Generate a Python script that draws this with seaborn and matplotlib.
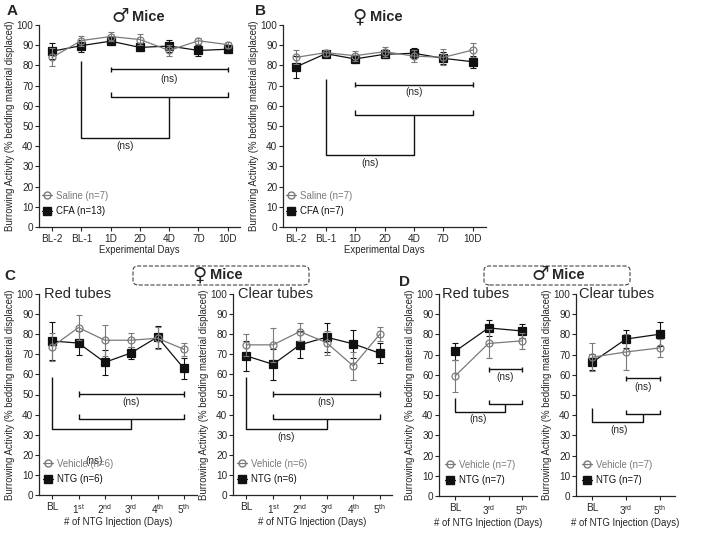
import pandas as pd
import seaborn as sns
import matplotlib.pyplot as plt
from matplotlib.lines import Line2D
from matplotlib.patches import FancyBboxPatch

# ---- data (mean +/- SEM) ----
days_ab = ['BL-2', 'BL-1', '1D', '2D', '4D', '7D', '10D']
inj_c = ['BL', '1$^{st}$', '2$^{nd}$', '3$^{rd}$', '4$^{th}$', '5$^{th}$']
inj_d = ['BL', '3$^{rd}$', '5$^{th}$']

a_saline = [84.0, 92.3, 94.3, 92.8, 87.4, 92.2, 90.3]
a_saline_sem = [4.5, 2.5, 2.0, 2.8, 2.5, 1.5, 1.5]
a_cfa = [87.0, 89.8, 92.0, 88.9, 89.6, 87.4, 88.0]
a_cfa_sem = [4.0, 3.0, 2.0, 2.0, 2.8, 2.5, 2.0]

b_saline = [84.0, 86.3, 84.8, 86.8, 84.6, 84.0, 87.6]
b_saline_sem = [3.5, 1.5, 2.5, 2.5, 3.0, 4.0, 3.6]
b_cfa = [79.3, 85.8, 83.2, 85.5, 86.0, 83.5, 81.8]
b_cfa_sem = [5.5, 1.5, 2.0, 2.0, 2.5, 3.0, 3.0]

c_red_veh = [73.8, 83.3, 77.0, 77.0, 78.0, 72.5]
c_red_veh_sem = [7.0, 6.3, 7.6, 3.5, 5.5, 3.2]
c_red_ntg = [76.6, 75.6, 66.0, 70.7, 78.6, 63.0]
c_red_ntg_sem = [9.4, 6.0, 6.2, 3.0, 5.5, 5.2]
c_clear_veh = [74.7, 74.7, 81.3, 75.8, 64.2, 80.1]
c_clear_veh_sem = [5.3, 8.6, 4.5, 6.0, 7.0, 3.7]
c_clear_ntg = [69.2, 65.0, 74.7, 78.5, 75.2, 70.5]
c_clear_ntg_sem = [7.5, 7.7, 6.7, 7.2, 7.0, 5.0]

d_red_veh = [59.4, 75.5, 76.8]
d_red_veh_sem = [8.1, 7.3, 4.0]
d_red_ntg = [71.6, 83.2, 81.7]
d_red_ntg_sem = [4.2, 3.8, 3.6]
d_clear_veh = [68.7, 71.3, 73.3]
d_clear_veh_sem = [6.8, 9.0, 4.5]
d_clear_ntg = [66.2, 77.7, 80.1]
d_clear_ntg_sem = [4.0, 4.3, 5.8]

sns.set_style('ticks')
plt.rcParams['font.family'] = ['Liberation Sans', 'DejaVu Sans']
plt.rcParams['mathtext.fontset'] = 'custom'
plt.rcParams['mathtext.rm'] = 'Liberation Sans'
plt.rcParams['mathtext.it'] = 'Liberation Sans'
plt.rcParams['axes.linewidth'] = 0.9

GREY = '#7a7a7a'
BLACK = '#111111'
YLAB = 'Burrowing Activity (% bedding material displaced)'
FS = 6.9

fig = plt.figure(figsize=(7.09, 5.34), dpi=100)
W, H = 709, 534


def px_axes(x0, x1, ytop, ybot):
    return fig.add_axes([x0 / W, 1 - ybot / H, (x1 - x0) / W, (ybot - ytop) / H])


def draw_panel(ax, cats, ctrl, ctrl_sem, trt, trt_sem, names, xlabel, pad):
    x = list(range(len(cats)))
    for vals, sem, col, mk, ms, mfc in [(trt, trt_sem, BLACK, 's', 5.5, BLACK),
                                        (ctrl, ctrl_sem, GREY, 'o', 5, 'none')]:
        df = pd.DataFrame({'x': x, 'y': vals})
        sns.lineplot(data=df, x='x', y='y', ax=ax, color=col, marker=mk,
                     markersize=ms, markerfacecolor=mfc, mec=col, mew=0.9,
                     lw=0.9, errorbar=None, sort=False)
        ax.errorbar(x, vals, yerr=sem, fmt='none', ecolor=col, elinewidth=0.8,
                    capsize=2.5, capthick=0.8)
    ax.set_xlim(-pad[0], len(cats) - 1 + pad[1])
    ax.set_ylim(0, 100)
    ax.set_yticks(range(0, 101, 10))
    ax.set_xticks(x)
    ax.set_xticklabels(cats, fontsize=FS + 0.3)
    ax.tick_params(axis='y', labelsize=FS + 0.3, length=3, pad=1)
    ax.tick_params(axis='x', length=3, pad=2)
    ax.set_xlabel(xlabel, fontsize=FS, labelpad=1)
    ax.set_ylabel(YLAB, fontsize=6.9, labelpad=1)
    sns.despine(ax=ax)
    handles = [Line2D([], [], color=GREY, marker='o', mfc='none', mec=GREY, ms=5, lw=0.9),
               Line2D([], [], color=BLACK, marker='s', ms=5.5, lw=0.9)]
    ax.legend(handles, names, loc='lower left', bbox_to_anchor=(-0.03, 0.01),
              frameon=False, fontsize=FS, handlelength=1.1, handletextpad=0.4,
              labelspacing=0.6, labelcolor=[GREY, BLACK])


def brackets(ax, base_x, base_top, pair, top_y, ns_top, low_y, join_y, ns_low):
    kw = dict(color=BLACK, lw=1.0, solid_capstyle='butt')
    a, b = pair
    mid = (a + b) / 2
    ax.plot([a, b], [top_y, top_y], **kw)
    for xx in pair:
        ax.plot([xx, xx], [top_y - 1.3, top_y + 1.3], **kw)
    ax.text(ns_top[0], ns_top[1], '(ns)', ha='center', va='center', fontsize=7.2)
    ax.plot([a, a, b, b], [low_y + 2.3, low_y, low_y, low_y + 2.3], **kw)
    ax.plot([mid, mid, base_x, base_x], [low_y, join_y, join_y, base_top], **kw)
    ax.text(ns_low[0], ns_low[1], '(ns)', ha='center', va='center', fontsize=7.2)


# Panel A
axA = px_axes(39, 240, 25, 227)
draw_panel(axA, days_ab, a_saline, a_saline_sem, a_cfa, a_cfa_sem,
           ['Saline (n=7)', 'CFA (n=13)'], 'Experimental Days', (0.45, 0.42))
brackets(axA, 1, 82, (2, 6), 78, (4, 73.5), 64.5, 44, (2.5, 40))

# Panel B
axB = px_axes(283, 486, 25, 227)
draw_panel(axB, days_ab, b_saline, b_saline_sem, b_cfa, b_cfa_sem,
           ['Saline (n=7)', 'CFA (n=7)'], 'Experimental Days', (0.45, 0.45))
brackets(axB, 1, 73.5, (2, 6), 70.5, (4, 67), 55.5, 35.5, (2.5, 31.7))

# Panel C
axC1 = px_axes(39, 197, 294, 495)
draw_panel(axC1, inj_c, c_red_veh, c_red_veh_sem, c_red_ntg, c_red_ntg_sem,
           ['Vehicle (n=6)', 'NTG (n=6)'], '# of NTG Injection (Days)', (0.5, 0.5))
brackets(axC1, 0, 58.5, (1, 5), 50.3, (3, 46.5), 38, 32.8, (1.6, 17))

axC2 = px_axes(233, 392, 294, 495)
draw_panel(axC2, inj_c, c_clear_veh, c_clear_veh_sem, c_clear_ntg, c_clear_ntg_sem,
           ['Vehicle (n=6)', 'NTG (n=6)'], '# of NTG Injection (Days)', (0.5, 0.45))
brackets(axC2, 0, 58.5, (1, 5), 50.3, (3, 46.5), 38, 32.8, (1.5, 29))

# Panel D
axD1 = px_axes(439, 537, 294, 496)
draw_panel(axD1, inj_d, d_red_veh, d_red_veh_sem, d_red_ntg, d_red_ntg_sem,
           ['Vehicle (n=7)', 'NTG (n=7)'], '# of NTG Injection (Days)', (0.48, 0.45))
brackets(axD1, 0, 48.3, (1, 2), 62.7, (1.5, 58.8), 45.4, 41.7, (0.7, 37.9))

axD2 = px_axes(576, 675, 294, 496)
draw_panel(axD2, inj_d, d_clear_veh, d_clear_veh_sem, d_clear_ntg, d_clear_ntg_sem,
           ['Vehicle (n=7)', 'NTG (n=7)'], '# of NTG Injection (Days)', (0.48, 0.45))
brackets(axD2, 0, 43.7, (1, 2), 58.3, (1.5, 53.8), 40.4, 36.4, (0.8, 32.6))

for ax, label in [(axC1, 'Red tubes'), (axC2, 'Clear tubes'),
                  (axD1, 'Red tubes'), (axD2, 'Clear tubes')]:
    ax.text(0.03, 1.0, label, transform=ax.transAxes, ha='left', va='center',
            fontsize=10.5)


def mice_title(xc, y, symbol):
    # sex symbol drawn larger, then the word
    fig.text((xc - 4) / W, 1 - y / H, symbol, ha='right', va='center',
             fontsize=14, fontweight='bold', family='DejaVu Sans')
    fig.text((xc - 1) / W, 1 - y / H, 'Mice', ha='left', va='center',
             fontsize=10.5, fontweight='bold')


mice_title(133, 17, '\u2642')
mice_title(371, 17, '\u2640')
for x0, x1, sym, xc in [(133, 309, '\u2640', 211), (484, 630, '\u2642', 553)]:
    box = FancyBboxPatch((x0 / W, 1 - 285 / H), (x1 - x0) / W, 19 / H,
                         boxstyle='round,pad=0,rounding_size=0.008',
                         transform=fig.transFigure, fill=False, ls='--',
                         lw=0.8, ec='#444444')
    fig.add_artist(box)
    mice_title(xc, 275, sym)

for x, y, letter in [(12, 11, 'A'), (261, 11, 'B'), (10, 276, 'C'), (404, 282, 'D')]:
    fig.text(x / W, 1 - y / H, letter, ha='center', va='center', fontsize=11,
             fontweight='bold')

fig.savefig('out.png', dpi=100)
